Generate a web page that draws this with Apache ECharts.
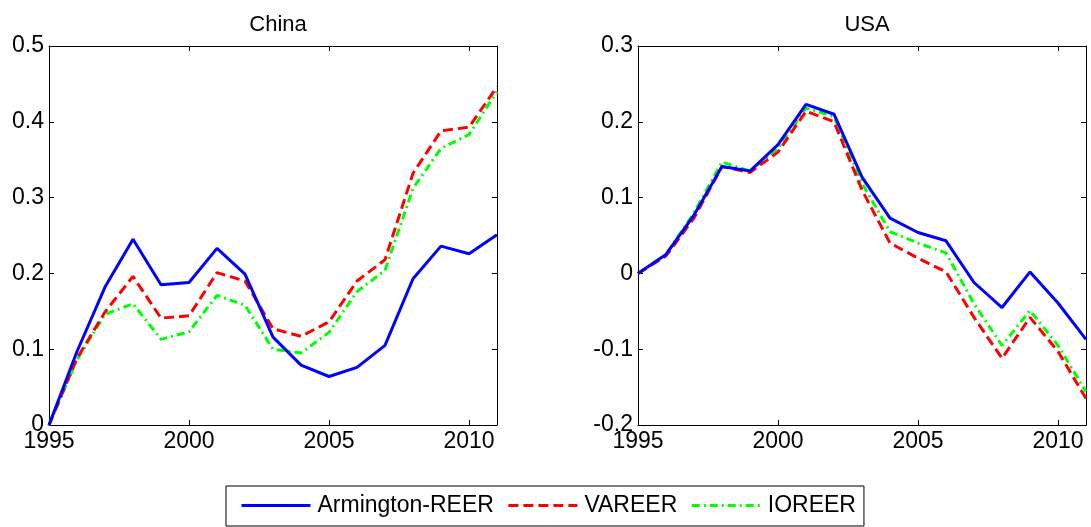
<!DOCTYPE html>
<html>
<head>
<meta charset="utf-8">
<script src="https://cdn.jsdelivr.net/npm/echarts@6/dist/echarts.min.js"></script>
<style>
html, body { margin: 0; padding: 0; background: #fff; }
#chart { width: 1091px; height: 527px; }
</style>
</head>
<body>
<div id="chart"></div>
<script>
var years = [1995,1996,1997,1998,1999,2000,2001,2002,2003,2004,2005,2006,2007,2008,2009,2010,2011];
var seriesNames = ['Armington-REER', 'VAREER', 'IOREER'];
var panelTitles = ['China', 'USA'];

// China
var chinaArm = [0,0.097,0.182,0.245,0.185,0.188,0.233,0.199,0.116,0.079,0.064,0.076,0.105,0.193,0.236,0.226,0.251];
var chinaVa  = [0,0.088,0.149,0.196,0.141,0.144,0.201,0.190,0.127,0.117,0.136,0.190,0.218,0.332,0.388,0.393,0.446];
var chinaIo  = [0,0.086,0.146,0.160,0.113,0.123,0.171,0.158,0.100,0.095,0.122,0.176,0.204,0.312,0.365,0.383,0.440];
// USA
var usaArm = [0,0.025,0.077,0.141,0.135,0.170,0.223,0.210,0.127,0.073,0.054,0.043,-0.012,-0.045,0.002,-0.039,-0.087];
var usaVa  = [0,0.023,0.073,0.141,0.133,0.160,0.214,0.200,0.110,0.040,0.020,0.002,-0.058,-0.112,-0.058,-0.103,-0.165];
var usaIo  = [0,0.025,0.080,0.147,0.135,0.165,0.218,0.207,0.119,0.055,0.040,0.027,-0.040,-0.095,-0.049,-0.095,-0.156];

var yRanges = [[0, 0.5], [-0.2, 0.3]];
var font = 'Liberation Sans, Arial, sans-serif';

function pairs(vals) {
	return years.map(function(y, i) { return [y, vals[i]]; });
}

var lineStyles = [
	{ color: '#0000ff', width: 3, type: 'solid' },
	{ color: '#ff0000', width: 3, type: [10, 5] },
	{ color: '#00ff00', width: 3, type: [8, 4, 2, 4] }
];

var grids = [
	{ left: 49, top: 46, width: 448, height: 379 },
	{ left: 638, top: 46, width: 448, height: 379 }
];

var xAxes = [], yAxes = [], series = [], titles = [];
for (var g = 0; g < 2; g++) {
	// bottom & top x axes (top one only mirrors the ticks)
	xAxes.push({
		type: 'value', gridIndex: g, min: 1995, max: 2011, interval: 5,
		position: 'bottom',
		axisLine: { show: true, onZero: false, lineStyle: { color: '#000', width: 1 } },
		axisTick: { inside: true, length: 5, lineStyle: { color: '#000' } },
		axisLabel: {
			color: '#000', fontSize: 23, fontFamily: font, margin: 5,
			formatter: function(v) { return v % 5 === 0 ? String(v) : ''; }
		},
		splitLine: { show: false }
	});
	xAxes.push({
		type: 'value', gridIndex: g, min: 1995, max: 2011, interval: 5,
		position: 'top',
		axisLine: { show: true, onZero: false, lineStyle: { color: '#000', width: 1 } },
		axisTick: { inside: true, length: 5, lineStyle: { color: '#000' } },
		axisLabel: { show: false },
		splitLine: { show: false }
	});
	yAxes.push({
		type: 'value', gridIndex: g, min: yRanges[g][0], max: yRanges[g][1], interval: 0.1,
		position: 'left',
		axisLine: { show: true, onZero: false, lineStyle: { color: '#000', width: 1 } },
		axisTick: { show: true, inside: true, length: 5, lineStyle: { color: '#000' } },
		axisLabel: {
			color: '#000', fontSize: 23, fontFamily: font, margin: 5,
			formatter: function(v) { return String(Math.round(v * 10) / 10); }
		},
		splitLine: { show: false }
	});
	yAxes.push({
		type: 'value', gridIndex: g, min: yRanges[g][0], max: yRanges[g][1], interval: 0.1,
		position: 'right',
		axisLine: { show: true, onZero: false, lineStyle: { color: '#000', width: 1 } },
		axisTick: { show: true, inside: true, length: 5, lineStyle: { color: '#000' } },
		axisLabel: { show: false },
		splitLine: { show: false }
	});
	titles.push({
		text: panelTitles[g],
		left: grids[g].left + grids[g].width / 2,
		top: 9,
		textAlign: 'center',
		textStyle: { color: '#000', fontSize: 22, fontWeight: 'normal', fontFamily: font }
	});
}

var panelData = [[chinaArm, chinaVa, chinaIo], [usaArm, usaVa, usaIo]];
for (var p = 0; p < 2; p++) {
	for (var s = 0; s < 3; s++) {
		series.push({
			name: seriesNames[s],
			type: 'line',
			xAxisIndex: p * 2,
			yAxisIndex: p * 2,
			symbol: 'none',
			showSymbol: false,
			lineStyle: lineStyles[s],
			itemStyle: { color: lineStyles[s].color },
			z: 10 - s,
			data: pairs(panelData[p][s])
		});
	}
}

var chart = echarts.init(document.getElementById('chart'));
chart.setOption({
	animation: false,
	backgroundColor: '#fff',
	title: titles,
	grid: grids,
	xAxis: xAxes,
	yAxis: yAxes,
	legend: {
		data: seriesNames,
		left: 226,
		top: 486,
		itemWidth: 69,
		itemHeight: 14,
		itemGap: 13,
		padding: [8, 8, 9, 14],
		borderColor: '#000',
		borderWidth: 1,
		itemStyle: { opacity: 0 },
		lineStyle: { width: 3 },
		textStyle: { color: '#000', fontSize: 23, fontFamily: font, padding: [0, 0, 0, 2] }
	},
	series: series
});
</script>
</body>
</html>
